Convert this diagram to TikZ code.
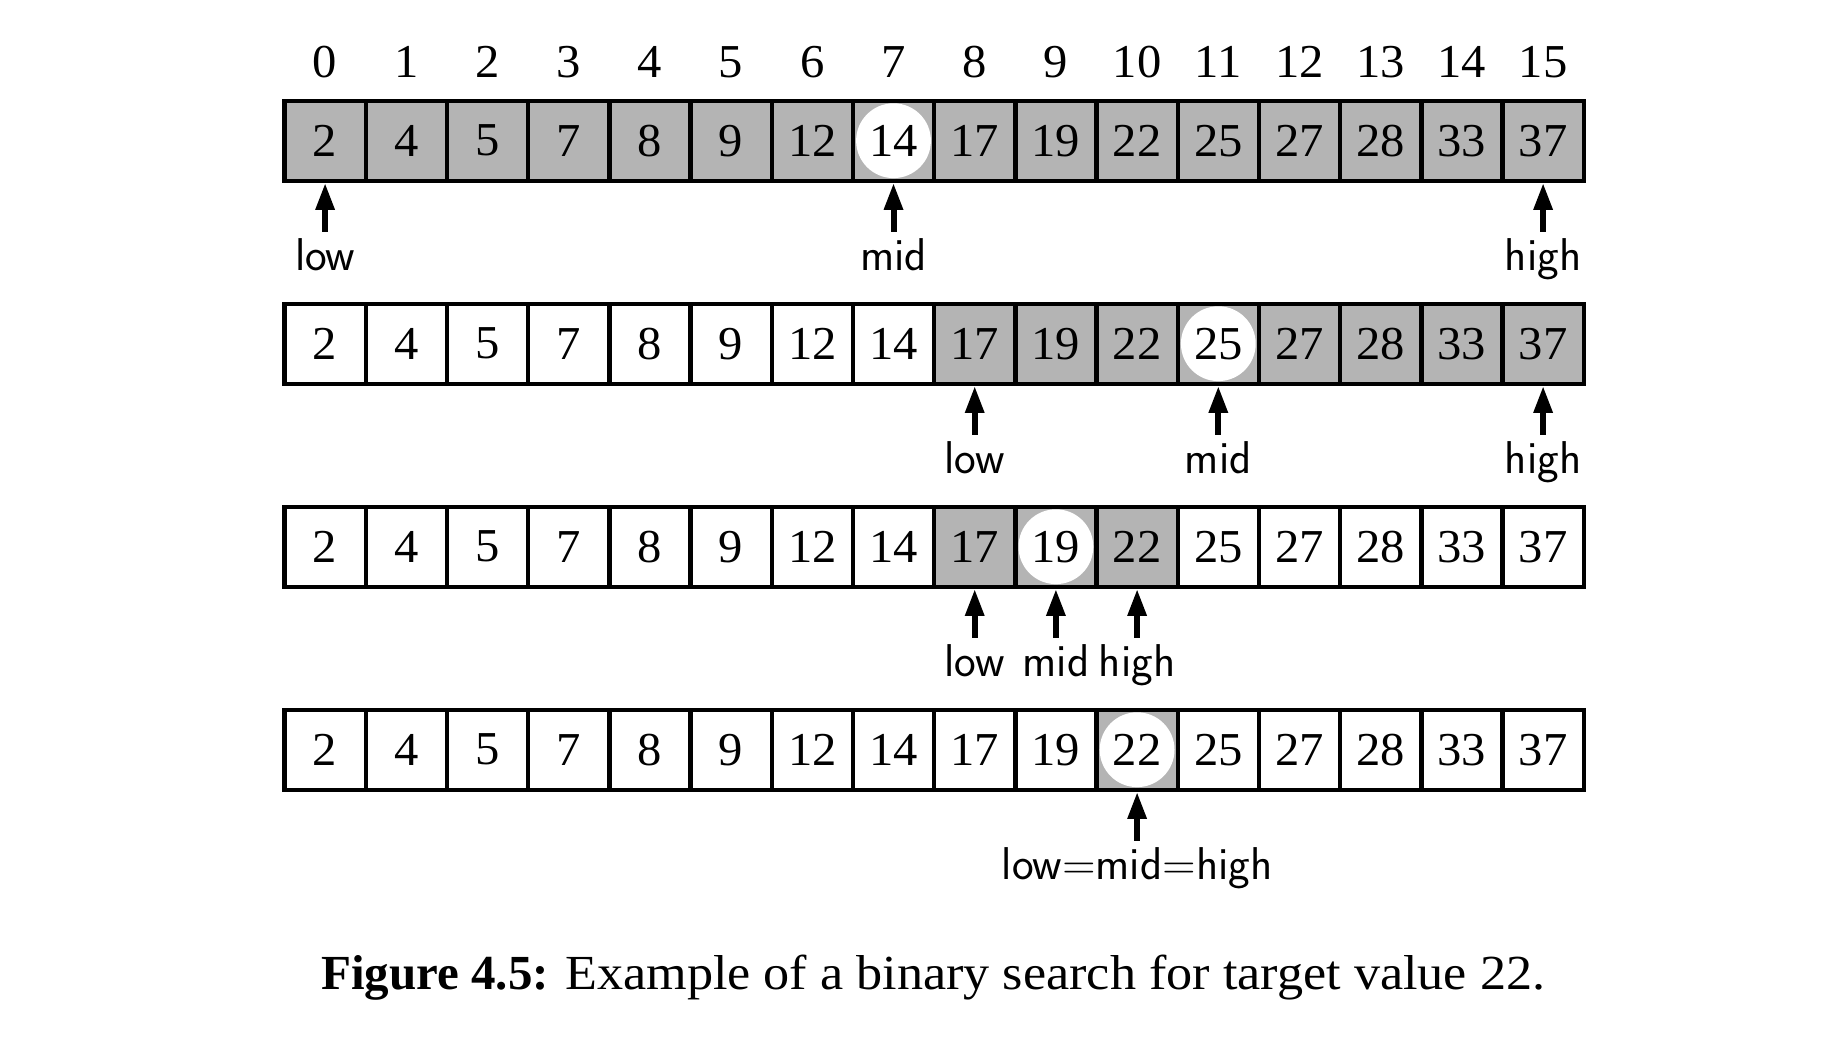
\documentclass[tikz,border=0pt]{standalone}
\usepackage{fontspec}
\setmainfont{Liberation Serif}
\usetikzlibrary{arrows.meta}
\definecolor{cellgray}{RGB}{180,180,180}
\newcommand\cellrow[5]{% #1 row, #2 y centre, #3 low, #4 mid, #5 high
  \foreach \v [count=\i from 0] in {2,4,5,7,8,9,12,14,17,19,22,25,27,28,33,37} {
    \ifnum\i<#3 \def\fc{white}\else\ifnum\i>#5 \def\fc{white}\else\def\fc{cellgray}\fi\fi
    \ifnum\i=#4 \def\hitflag{1}\else\def\hitflag{0}\fi
    \node[cellbox,fill=\fc,
      path picture={\ifnum\hitflag=1 \fill[white] (path picture bounding box.center) circle (18.7pt);\fi}]
      (r#1c\i) at ({284.5+81.2*(\i+0.5)},#2) {\v};
  }}
\begin{document}
\begin{tikzpicture}[x=0.5pt,y=-0.5pt,
  cellbox/.style={draw=black,line width=2.2pt,minimum width=40.6pt,minimum height=40pt,
    inner sep=0pt,font=\fontsize{23.6}{28}\selectfont\addfontfeature{FakeStretch=1.03}},
  idx/.style={anchor=base,inner sep=0pt,font=\fontsize{23.6}{28}\selectfont\addfontfeature{FakeStretch=1.03}},
  ptr/.style={anchor=base,inner xsep=0pt,inner ysep=3pt,
    font=\sffamily\fontsize{23}{27}\selectfont},
  arr/.style={line width=3pt,-{Triangle[width=9pt,length=13.5pt]}},
  capt/.style={anchor=base,inner sep=0pt,font=\fontsize{24.5}{29}\selectfont}]
\useasboundingbox (0,0) rectangle (1846,1056);
% index row
\foreach \i in {0,...,15} {
  \node[idx] (idx\i) at ({284.5+81.2*(\i+0.5)},77) {\i};
}
% array rows
\cellrow{1}{140.7}{0}{7}{15}
\cellrow{2}{343.7}{8}{11}{15}
\cellrow{3}{546.7}{8}{9}{10}
\cellrow{4}{749.7}{10}{10}{10}
% row 1 pointers
\node[ptr] (lowA) at (r1c0 |- 0,270.2) {low};
\node[ptr] (midA) at (r1c7 |- 0,270.2) {mid};
\node[ptr] (highA) at (r1c15 |- 0,270.2) {high};
\draw[arr] (lowA) -- (r1c0);
\draw[arr] (midA) -- (r1c7);
\draw[arr] (highA) -- (r1c15);
% row 2 pointers
\node[ptr] (lowB) at (r2c8 |- 0,473.2) {low};
\node[ptr] (midB) at (r2c11 |- 0,473.2) {mid};
\node[ptr] (highB) at (r2c15 |- 0,473.2) {high};
\draw[arr] (lowB) -- (r2c8);
\draw[arr] (midB) -- (r2c11);
\draw[arr] (highB) -- (r2c15);
% row 3 pointers
\node[ptr] (lowC) at (r3c8 |- 0,676.2) {low};
\node[ptr] (midC) at (r3c9 |- 0,676.2) {mid};
\node[ptr] (highC) at (r3c10 |- 0,676.2) {high};
\draw[arr] (lowC) -- (r3c8);
\draw[arr] (midC) -- (r3c9);
\draw[arr] (highC) -- (r3c10);
% row 4 pointer
\node[ptr] (allD) at (r4c10 |- 0,879.2) {low=mid=high};
\draw[arr] (allD) -- (r4c10);
% caption
\node[capt] (cap) at (933.3,989) {\textbf{Figure 4.5:} {\addfontfeature{FakeStretch=1.065}Example of a binary search for target value 22.}};
\end{tikzpicture}
\end{document}
